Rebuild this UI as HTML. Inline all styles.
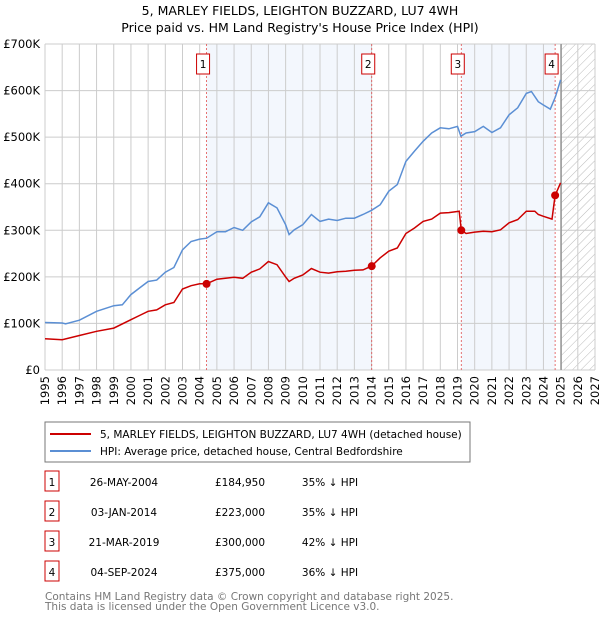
<!DOCTYPE html>
<html><head><meta charset="utf-8">
<style>
body{margin:0;background:#fff;font-family:"Liberation Sans","DejaVu Sans",sans-serif;}
svg text{font-family:"DejaVu Sans","Liberation Sans",sans-serif;}
</style></head><body>
<svg id="c" width="600" height="620" xmlns="http://www.w3.org/2000/svg">
<text x="300" y="15" font-size="12.5" text-anchor="middle">5, MARLEY FIELDS, LEIGHTON BUZZARD, LU7 4WH</text>
<text x="300" y="32" font-size="12.5" text-anchor="middle">Price paid vs. HM Land Registry's House Price Index (HPI)</text>
<defs><pattern id="hatch" width="6" height="6" patternUnits="userSpaceOnUse" patternTransform="rotate(45)"><line x1="0" y1="0" x2="0" y2="6" stroke="#bbb" stroke-width="1"/></pattern></defs>
<g id="plot"></g>
<rect x="45" y="422" width="425" height="40" fill="#fff" stroke="#777"/>
<line x1="50" y1="434" x2="91" y2="434" stroke="#cc0000" stroke-width="2"/>
<text x="100" y="438" font-size="10.5">5, MARLEY FIELDS, LEIGHTON BUZZARD, LU7 4WH (detached house)</text>
<line x1="50" y1="451" x2="91" y2="451" stroke="#5b8fd4" stroke-width="2"/>
<text x="100" y="455" font-size="10.5">HPI: Average price, detached house, Central Bedfordshire</text>
<g id="table" font-size="10.5"></g>
<text x="45" y="600" font-size="10.5" fill="#777">Contains HM Land Registry data © Crown copyright and database right 2025.</text>
<text x="45" y="610" font-size="10.5" fill="#777">This data is licensed under the Open Government Licence v3.0.</text>
</svg>
<script>
const hpiYears=[1995,1996,1996.2,1997,1998,1999,1999.5,2000,2000.5,2001,2001.5,2002,2002.5,2003,2003.5,2004,2004.4,2005,2005.5,2006,2006.5,2007,2007.5,2008,2008.5,2009,2009.2,2009.5,2010,2010.5,2011,2011.5,2012,2012.5,2013,2013.5,2014,2014.5,2015,2015.5,2016,2016.5,2017,2017.5,2018,2018.5,2019,2019.2,2019.5,2020,2020.5,2021,2021.5,2022,2022.5,2023,2023.3,2023.7,2024,2024.4,2024.7,2025.0];
const hpiValues=[102,101,99,107,126,138,140,162,176,190,193,210,220,258,276,281,283,297,297,306,300,318,329,359,348,312,291,301,312,334,319,324,321,326,326,334,343,355,384,398,448,470,491,509,520,518,523,502,509,512,523,510,520,548,563,594,598,576,569,560,587,623];
const propYears=[1995,1996,1997,1998,1999,2000,2000.5,2001,2001.5,2002,2002.5,2003,2003.5,2004,2004.4,2005,2006,2006.5,2007,2007.5,2008,2008.5,2009,2009.2,2009.5,2010,2010.5,2011,2011.5,2012,2012.5,2013,2013.5,2014,2014.5,2015,2015.5,2016,2016.5,2017,2017.5,2018,2018.5,2019.1,2019.22,2019.5,2020,2020.5,2021,2021.5,2022,2022.5,2023,2023.5,2023.7,2024,2024.5,2024.68,2025.0];
const propValues=[67,65,74,83,90,108,117,126,129,140,145,174,181,185,185,195,199,197,210,217,233,226,200,190,197,204,218,210,208,211,212,214,215,223,241,255,262,293,305,319,324,337,338,341,300,293,296,298,297,301,316,323,341,341,334,330,324,375,402];
const saleLabels=["1","2","3","4"];
const saleYears=[2004.4,2014.01,2019.22,2024.68];
const saleValues=[184.95,223,300,375];
const saleDates=["26-MAY-2004","03-JAN-2014","21-MAR-2019","04-SEP-2024"];
const salePrices=["£184,950","£223,000","£300,000","£375,000"];
const saleDiffs=["35% ↓ HPI","35% ↓ HPI","42% ↓ HPI","36% ↓ HPI"];
const yTicks=[0,100,200,300,400,500,600,700];
const yTickLabels=["£0","£100K","£200K","£300K","£400K","£500K","£600K","£700K"];
const xTicks=[1995,1996,1997,1998,1999,2000,2001,2002,2003,2004,2005,2006,2007,2008,2009,2010,2011,2012,2013,2014,2015,2016,2017,2018,2019,2020,2021,2022,2023,2024,2025,2026,2027];
const bands=[[2004.4,2014.01],[2019.22,2024.68]];
const dataEnd=2025.03;

const L=45,R=595,T=44,B=370;
const X=y=>L+(y-1995)/(2027-1995)*(R-L);
const Y=v=>B-v/700*(B-T);
const NS="http://www.w3.org/2000/svg";
const g=document.getElementById('plot');
function mk(tag,attrs,parent){const e=document.createElementNS(NS,tag);for(const k in attrs)e.setAttribute(k,attrs[k]);(parent||g).appendChild(e);return e;}

bands.forEach((b,i)=>{const r=mk('rect',{x:X(b[0]),y:T,width:X(b[1])-X(b[0]),height:B-T,fill:'#eef3fc',opacity:0.7});

});
const h=mk('rect',{x:X(dataEnd),y:T,width:R-X(dataEnd),height:B-T,fill:'url(#hatch)'});


xTicks.forEach(t=>{const l=mk('line',{x1:X(t),x2:X(t),y1:T,y2:B,stroke:'#ccc','stroke-width':1});


const tx=mk('text',{x:0,y:0,'font-size':11.5,'text-anchor':'end',transform:`translate(${X(t)+4},${B+6}) rotate(-90)`});tx.textContent=t;

});
yTicks.forEach((t,i)=>{const l=mk('line',{x1:L,x2:R,y1:Y(t),y2:Y(t),stroke:'#ccc','stroke-width':1});


const tx=mk('text',{x:L-5,y:Y(t)+4,'font-size':11.5,'text-anchor':'end'});tx.textContent=yTickLabels[i];

});
const el=mk('line',{x1:X(dataEnd),x2:X(dataEnd),y1:T,y2:B,stroke:'#999','stroke-width':1.5});


saleYears.forEach((s,i)=>{const l=mk('line',{x1:X(s),x2:X(s),y1:T,y2:B,stroke:'#e05050','stroke-width':0.8,'stroke-dasharray':'2,2'});


const bx=mk('rect',{x:X(s)-10,y:54,width:13,height:20,fill:'#fff',stroke:'#cc0000'});


const tx=mk('text',{x:X(s)-3.5,y:68,'font-size':10.5,'text-anchor':'middle'});tx.textContent=saleLabels[i];

});
const pl=(xs,vs)=>xs.map((x,i)=>X(x).toFixed(1)+','+Y(vs[i]).toFixed(1)).join(' ');
const hp=mk('polyline',{points:pl(hpiYears,hpiValues),fill:'none',stroke:'#5b8fd4','stroke-width':1.5});


const pp=mk('polyline',{points:pl(propYears,propValues),fill:'none',stroke:'#cc0000','stroke-width':1.5});


saleYears.forEach((s,i)=>{const c=mk('circle',{cx:X(s),cy:Y(saleValues[i]),r:4,fill:'#cc0000'});

});
const tb=document.getElementById('table');
saleLabels.forEach((lab,i)=>{const y=483+i*30;
const bx=mk('rect',{x:45,y:y-12,width:14,height:20,fill:'#fff',stroke:'#cc0000'},tb);


const cols=[[52,lab,'middle'],[124,saleDates[i],'middle'],[240,salePrices[i],'middle'],[330,saleDiffs[i],'middle']];
cols.forEach(c=>{const t=mk('text',{x:c[0],y:y+3,'text-anchor':c[2]},tb);t.textContent=c[1];

});});
</script>
</body></html>
